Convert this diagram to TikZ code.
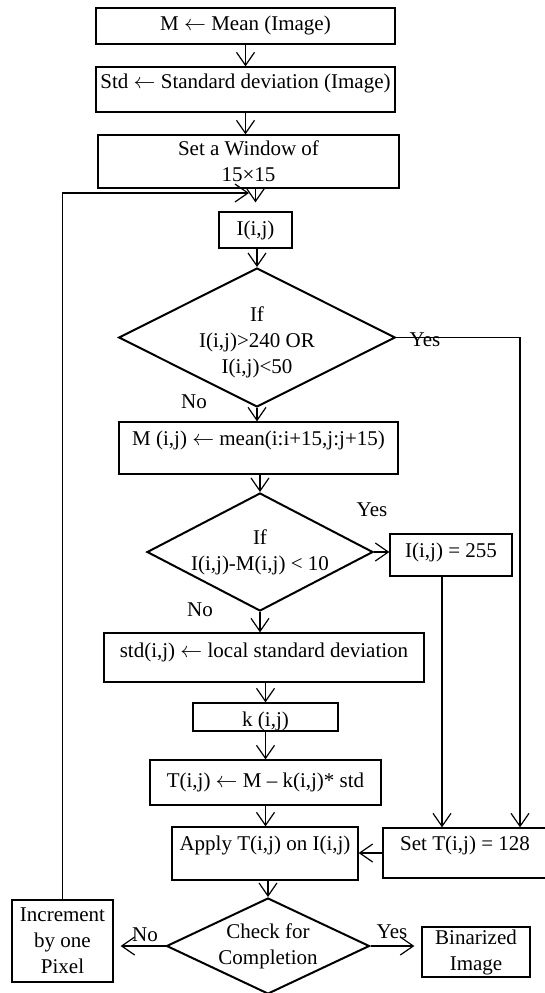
\documentclass[tikz,border=0pt]{standalone}
\usepackage{fontspec}
\setmainfont{Liberation Serif}
\usetikzlibrary{shapes,arrows.meta,positioning}
\tikzstyle{stepbox}=[rectangle, draw, line width=0.65pt, align=center, inner xsep=0pt, inner ysep=0pt]
\tikzstyle{decision}=[diamond, draw, line width=1pt, align=center, inner sep=0pt]
\tikzstyle{lbl}=[inner sep=0pt]
\tikzstyle{flow}=[line width=0.6pt, -{Straight Barb[length=6.5pt,width=9pt]}]

\begin{document}
\begin{tikzpicture}[x=0.5pt, y=-0.5pt, every node/.style = {font=\fontsize{10.5}{13}\selectfont}]
\useasboundingbox (0,0) rectangle (545,993);

\node[stepbox, minimum width=149.5pt, text height=11pt, text depth=7pt] (p1) at (245.5,26) {M $\leftarrow$ Mean (Image)};
\node[stepbox, minimum width=149.5pt, text height=10.5pt, text depth=12pt] (p2) at (245.5,89.5) {Std $\leftarrow$ Standard deviation (Image)};
\node[stepbox, minimum width=150.5pt, minimum height=26.5pt] (p3) at (248.5,161.5) {Set a Window of\\15×15};
\node[stepbox, minimum width=36.5pt, text height=11.5pt, text depth=6.5pt] (p4) at (255.5,230) {I(i,j)};
\node[decision, minimum width=138pt, minimum height=69.5pt, aspect=2] (check1) at (257,337.5) {\rule{0pt}{12pt}If\\I(i,j)>240 OR\\I(i,j)<50};
\node[stepbox, minimum width=139.5pt, text height=11.5pt, text depth=14.5pt] (p5) at (258.5,448) {M (i,j) $\leftarrow$ mean(i:i+15,j:j+15)};
\node[decision, minimum width=113pt, minimum height=59pt, aspect=1.9] (check2) at (260,552) {If\\I(i,j)-M(i,j) < 10};
\node[stepbox, minimum width=61pt, text height=11.5pt, text depth=9.5pt] (p6) at (451,555) {I(i,j) = 255};
\node[stepbox, minimum width=160pt, text height=12pt, text depth=12.5pt] (p7) at (264,657.5) {std(i,j) $\leftarrow$ local standard deviation};
\node[stepbox, minimum width=72.5pt, text height=11.5pt, text depth=2.5pt] (p8) at (265.5,717) {k (i,j)};
\node[stepbox, minimum width=115.5pt, text height=13.5pt, text depth=9pt] (p9) at (265.5,782.5) {T(i,j) $\leftarrow$ M – k(i,j)* std};
\node[stepbox, minimum width=93pt, text height=11.5pt, text depth=15pt] (p10) at (265,853.5) {Apply T(i,j) on I(i,j)};
\node[stepbox, minimum width=82pt, text height=11pt, text depth=14pt] (p11) at (465,853) {Set T(i,j) = 128};
\node[decision, minimum width=101.5pt, minimum height=48pt, aspect=2.1] (check3) at (268,946) {Check for\\Completion};
\node[stepbox, minimum width=50.5pt, minimum height=41pt] (p12) at (62.5,941) {Increment\\by one\\Pixel};
\node[stepbox, minimum width=54pt, minimum height=25pt] (p13) at (476,952) {Binarized\\Image};

\node[lbl] (y1) at (425,340) {Yes};
\node[lbl] (n1) at (194,402) {No};
\node[lbl] (y2) at (372,510) {Yes};
\node[lbl] (n2) at (200,610) {No};
\node[lbl] (n3) at (145,935) {No};
\node[lbl] (y3) at (392,932) {Yes};

\coordinate (fb) at (249,193);
\coordinate (s1) at ([xshift=-4.5pt]p6.south);
\coordinate (s2) at ([xshift=27.5pt]p11.north);

\draw[flow] (p1) -- (p2);
\draw[flow] (p2.south) -- (p2.south |- p3.north);
\draw[flow, shorten >=4.5pt] (p4.north |- p3.south) -- (p4.north);
\draw[flow] (p12.north) |- (fb);
\draw[flow] (check1.north |- p4.south) -- (check1.north);
\draw[flow] (check1.south) -- (check1.south |- p5.north);
\draw[flow] (check1.east) -| (s2);
\draw[flow] (check2.north |- p5.south) -- (check2.north);
\draw[flow] (check2.east) -- (check2.east -| p6.west);
\draw[flow] (check2.south) -- (check2.south |- p7.north);
\draw[flow] (s1) -- (s1 |- p11.north);
\draw[flow] (p8.north |- p7.south) -- (p8.north);
\draw[flow] (p8) -- (p9);
\draw[flow] (p9.south) -- (p9.south |- p10.north);
\draw[flow] (p11.west) -- (p11.west -| p10.east);
\draw[flow] (check3.north |- p10.south) -- (check3.north);
\draw[flow, shorten >=3.5pt] (check3.west) -- (check3.west -| p12.east);
\draw[flow, shorten >=3.5pt] (check3.east) -- (check3.east -| p13.west);

\end{tikzpicture}
\end{document}
